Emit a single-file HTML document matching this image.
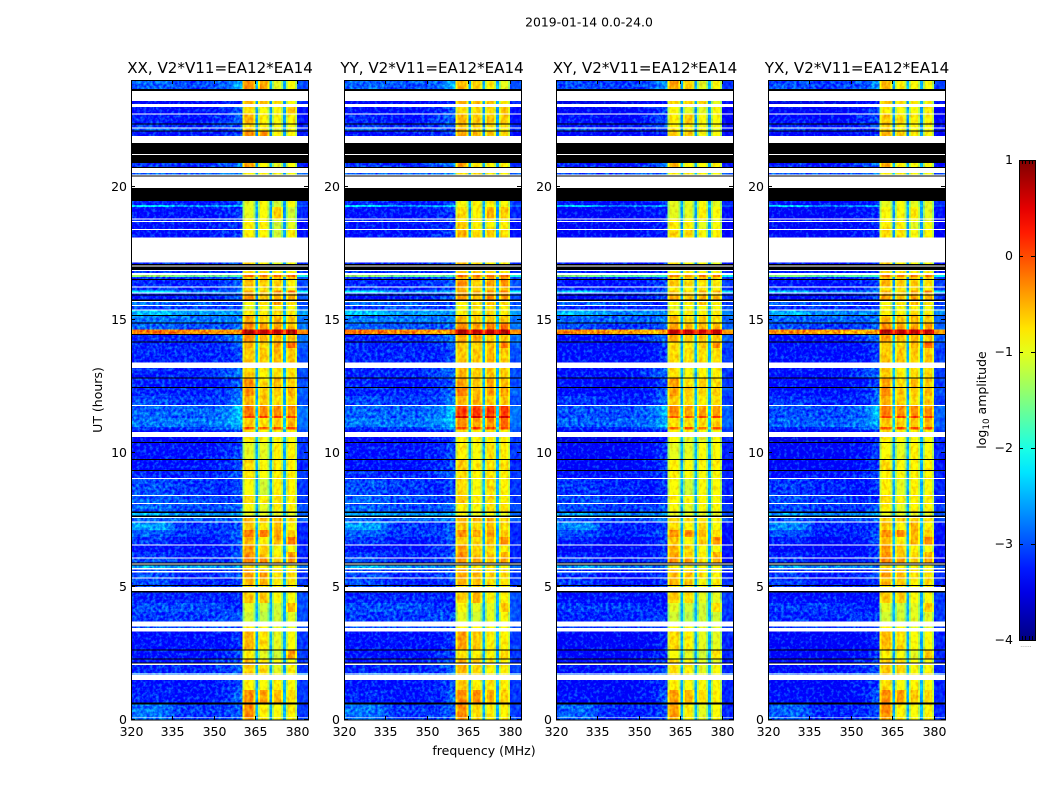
<!DOCTYPE html>
<html lang="en">
<head>
<meta charset="utf-8">
<title>2019-01-14 waterfall</title>
<style>
html,body{margin:0;padding:0;background:#fff;}
svg{display:block;}
text{font-family:"DejaVu Sans","Liberation Sans",sans-serif;fill:#000;}
</style>
</head>
<body>
<svg id="figure" xmlns="http://www.w3.org/2000/svg" width="1050" height="800" viewBox="0 0 1050 800">
  <defs>
    <filter id="bgGrain" x="-5%" y="0" width="110%" height="100%" color-interpolation-filters="sRGB">
      <feGaussianBlur in="SourceGraphic" stdDeviation="5 0" result="b"/>
      <feComponentTransfer in="b" result="o"><feFuncA type="linear" slope="30"/></feComponentTransfer>
      <feComposite in="o" in2="SourceAlpha" operator="in" result="c"/>
      <feTurbulence type="fractalNoise" baseFrequency="0.32" numOctaves="2" seed="4" result="n"/>
      <feColorMatrix in="n" type="matrix" values="0.4 0 0 0 0.28  2 0 0 0 -0.5  0 0 0 0 0.5  0 0 0 0 1" result="g"/>
      <feComposite in="c" in2="g" operator="arithmetic" k1="0" k2="1" k3="0.6" k4="-0.3" result="m"/>
      <feComposite in="m" in2="SourceAlpha" operator="in"/>
    </filter>
    <filter id="bandGrain" x="0" y="0" width="100%" height="100%" color-interpolation-filters="sRGB">
      <feTurbulence type="fractalNoise" baseFrequency="0.3 0.22" numOctaves="2" seed="9" result="n"/>
      <feColorMatrix in="n" type="matrix" values="0.4 0 0 0 0.3  1.6 0 0 0 -0.3  0 0 0 0 0.5  0 0 0 0 1" result="g"/>
      <feComposite in="SourceGraphic" in2="g" operator="arithmetic" k1="0" k2="1" k3="0.36" k4="-0.18" result="m"/>
      <feComposite in="m" in2="SourceAlpha" operator="in"/>
    </filter>
    <linearGradient id="jetGradient" x1="0" y1="1" x2="0" y2="0"></linearGradient>
  </defs>
  <rect x="0" y="0" width="1050" height="800" fill="#fff"/>
  <text x="589" y="26.5" text-anchor="middle" font-size="12.4">2019-01-14 0.0-24.0</text>
  <text x="220" y="73" text-anchor="middle" font-size="15.1">XX, V2*V11=EA12*EA14</text>
  <text x="432" y="73" text-anchor="middle" font-size="15.1">YY, V2*V11=EA12*EA14</text>
  <text x="645" y="73" text-anchor="middle" font-size="15.1">XY, V2*V11=EA12*EA14</text>
  <text x="857" y="73" text-anchor="middle" font-size="15.1">YX, V2*V11=EA12*EA14</text>
  <text transform="translate(102,400) rotate(-90)" text-anchor="middle" font-size="12.5">UT (hours)</text>
  <text x="484" y="755" text-anchor="middle" font-size="12.5">frequency (MHz)</text>
  <text transform="translate(986,400) rotate(-90)" text-anchor="middle" font-size="12.5">log<tspan dy="3" font-size="8.8">10</tspan><tspan dy="-3"> amplitude</tspan></text>
  <g id="panels"></g>
  <g id="colorbar"></g>
</svg>
<script>
// Frequency channel edges (MHz) for the out-of-band heatmap columns.
const lowFreqEdges = [320,335,350,357,361];
// Sub-band ranges (MHz): each has a flat centre and slightly dimmer shoulders.
const subBands = [[360.4,365],[366,370],[371,375],[376,380]];
// Notches between the sub-bands (MHz).
const notchRanges = [[365,366],[370,371],[375,376]];
const highFreqRange = [380,384];
const bandShoulderMHz = [0.7];
const bandShoulderDrop = [-4];
const notchOffset = [-4];

const xTickValues = [320,335,350,365,380];
const yTickValues = [0,5,10,15,20];
const colorbarTicks = [1,0,-1,-2,-3,-4];
const colorbarMinorFractions = [0.2,0.4,0.6,0.8];

// Time ranges (UT hours, top then bottom) holding valid data, one per matrix row.
const dataRows = [
[24,23.66],[23.21,23.10],[22.99,22.75],[22.71,22.37],[22.33,22.22],
[22.18,22.11],[22.08,21.90],[20.89,20.74],[20.51,20.46],[19.46,19.31],
[19.31,19.24],[19.24,18.81],[18.77,18.71],[18.68,18.41],[18.38,18.09],
[17.15,17.10],[16.84,16.76],[16.69,16.61],[16.61,16.54],[16.50,16.25],
[16.21,16.11],[16.11,16.03],[16.00,15.95],[15.92,15.76],[15.68,15.56],
[15.53,15.40],[15.35,15.19],[15.16,14.91],[14.89,14.65],[14.65,14.48],
[14.43,14.19],[14.15,13.95],[13.95,13.40],[13.20,12.85],[12.83,12.48],
[12.45,12.15],[12.15,11.81],[11.78,11.40],[11.40,11.33],[11.33,10.99],
[10.99,10.89],[10.89,10.80],[10.61,10.43],[10.40,9.78],[9.75,9.38],
[9.35,9.08],[9.04,8.44],[8.40,8.14],[8.10,7.81],[7.77,7.66],
[7.58,7.44],[7.40,7.13],[7.13,6.86],[6.86,6.59],[6.55,6.30],
[6.30,6.10],[6.06,5.90],[5.81,5.70],[5.65,5.59],[5.54,5.35],
[5.31,5.06],[5.03,4.98],[4.79,4.39],[4.39,4.05],[4.05,3.69],
[3.51,3.45],[3.31,2.65],[2.61,2.31],[2.28,2.16],[2.07,1.77],
[1.74,1.70],[1.50,1.13],[1.13,0.65],[0.59,0.12],[0.09,0]
];

// Time ranges (UT hours) where the amplitude is zero and drawn black.
const zeroRows = [
[23.66,23.59],[22.37,22.33],[22.11,22.08],[21.64,21.23],[21.19,20.89],[20.74,20.70],[20.42,20.38],[19.95,19.46],
[17.10,17.05],[17.00,16.88],[16.54,16.50],[15.95,15.92],[15.76,15.71],[15.19,15.16],[14.91,14.89],[14.48,14.43],
[14.19,14.15],[12.85,12.83],[12.48,12.45],[10.43,10.40],[9.78,9.75],[9.38,9.35],[7.81,7.77],[7.66,7.62],
[5.90,5.87],[5.84,5.81],[5.06,5.03],[4.83,4.79],[2.65,2.61],[2.31,2.28],[2.16,2.13],[0.65,0.59]
];

// Out-of-band levels, tenths of log10 amplitude: 320-335, 335-350, 350-357, 357-361, notches, 380-384.
const backgroundLevels = [
[-27,-28,-27,-23,-21,-28],[-32,-32,-31,-30,-22,-30],[-31,-31,-30,-27,-22,-31],[-30,-31,-29,-27,-22,-31],[-29,-30,-29,-27,-22,-30],
[-27,-29,-29,-28,-22,-30],[-31,-31,-30,-28,-22,-31],[-29,-30,-28,-25,-21,-30],[-27,-27,-26,-24,-21,-27],[-30,-31,-30,-28,-22,-29],
[-21,-25,-24,-22,-20,-27],[-31,-31,-30,-29,-22,-30],[-30,-30,-30,-29,-22,-30],[-31,-31,-30,-29,-22,-31],[-31,-31,-30,-29,-22,-31],
[-30,-30,-29,-27,-22,-30],[-29,-29,-29,-28,-22,-29],[-12,-14,-14,-16,-8,-18],[-29,-29,-28,-27,-22,-28],[-30,-30,-29,-27,-22,-28],
[-29,-30,-29,-27,-22,-28],[-20,-25,-25,-24,-16,-20],[-30,-30,-29,-28,-22,-28],[-31,-30,-29,-27,-22,-28],[-26,-27,-29,-28,-22,-28],
[-29,-28,-29,-28,-22,-27],[-22,-24,-24,-24,-20,-24],[-26,-26,-26,-25,-20,-26],[-27,-28,-28,-26,-20,-26],[0,-1,-2,-1,4,-1],
[-30,-30,-28,-25,-20,-26],[-30,-30,-30,-27,-21,-27],[-30,-30,-30,-28,-21,-28],[-30,-30,-28,-26,-21,-28],[-30,-31,-30,-27,-21,-28],
[-30,-30,-29,-26,-21,-27],[-28,-29,-29,-25,-21,-28],[-27,-27,-26,-21,-20,-26],[-27,-28,-26,-22,-14,-26],[-26,-26,-25,-22,-20,-26],
[-29,-29,-27,-24,-14,-27],[-31,-31,-30,-29,-21,-28],[-32,-32,-31,-29,-21,-29],[-31,-31,-30,-28,-21,-29],[-31,-31,-30,-28,-21,-30],
[-30,-30,-29,-27,-21,-29],[-28,-29,-30,-28,-21,-29],[-27,-28,-29,-28,-21,-29],[-27,-28,-28,-26,-21,-28],[-23,-24,-24,-23,-20,-27],
[-27,-27,-27,-25,-21,-27],[-24,-29,-29,-28,-21,-30],[-27,-29,-29,-26,-21,-30],[-29,-31,-30,-27,-21,-30],[-31,-31,-30,-28,-21,-30],
[-29,-30,-30,-27,-21,-30],[-28,-30,-29,-27,-21,-30],[-23,-24,-25,-24,-20,-26],[-28,-29,-29,-28,-21,-29],[-28,-30,-29,-27,-21,-29],
[-28,-30,-30,-28,-21,-29],[-28,-29,-29,-28,-21,-29],[-30,-30,-30,-30,-21,-28],[-28,-28,-29,-30,-21,-28],[-29,-29,-28,-28,-21,-28],
[-28,-28,-28,-28,-21,-28],[-31,-31,-31,-29,-21,-29],[-31,-31,-30,-28,-21,-29],[-31,-31,-29,-27,-21,-29],[-30,-30,-29,-27,-21,-29],
[-26,-26,-25,-25,-21,-25],[-31,-31,-30,-28,-21,-29],[-30,-31,-30,-26,-21,-29],[-26,-29,-29,-27,-21,-29],[-26,-29,-28,-27,-21,-28]
];

// Per-polarization shift of the out-of-band levels (tenths): XX, YY, XY, YX.
const backgroundOffsets = [-2,-2,-3,-3];

// In-band levels, tenths of log10 amplitude: 360-365, 366-370, 371-375, 376-380.
const xxBandLevels = [
[-3,-4,-10,-9],[-5,-5,-7,-9],[-7,-9,-9,-6],[-5,-8,-9,-8],[-7,-8,-9,-9],
[-5,-8,-10,-9],[-3,-3,-8,-8],[-4,-8,-10,-9],[-8,-8,-9,-9],[-10,-9,-11,-9],
[-10,-9,-11,-9],[-10,-9,-6,-11],[-9,-9,-10,-11],[-8,-8,-11,-10],[-8,-8,-11,-8],
[-6,-8,-10,-9],[-7,-7,-8,-8],[-1,-2,-1,-1],[-7,-5,-5,-6],[-5,-6,-6,-8],
[-7,-8,-8,-9],[-5,-6,-3,-2],[-5,-6,-5,-6],[-3,-6,-4,-5],[-9,-7,-4,-7],
[-10,-9,-8,-9],[-8,-8,-7,-8],[-4,-6,-5,-6],[-3,-4,-4,-5],[8,7,7,8],
[-3,-5,-5,-6],[-5,-7,-4,-1],[-6,-6,-5,-6],[-6,-8,-7,-7],[-3,-7,-5,-6],
[-3,-6,-6,-5],[-5,-6,-7,-6],[-2,-3,-3,-3],[1,1,1,1],[-6,-7,-6,-5],
[0,0,0,1],[-7,-8,-8,-8],[-8,-9,-9,-9],[-10,-10,-8,-8],[-7,-9,-8,-8],
[-7,-9,-8,-8],[-9,-11,-8,-8],[-7,-8,-7,-8],[-9,-10,-8,-8],[-10,-10,-10,-10],
[-5,-5,-5,-7],[-6,-8,-5,-8],[-2,-2,-4,-6],[-5,-8,-5,-2],[-4,-6,-9,-9],
[-3,-6,-8,-4],[-2,-3,-6,-3],[-7,-9,-9,-9],[-5,-6,-7,-8],[-4,-4,-7,-7],
[-5,-5,-8,-7],[-7,-7,-8,-8],[-6,-6,-9,-9],[-10,-11,-11,-5],[-11,-12,-11,-10],
[-8,-9,-10,-10],[-5,-7,-10,-9],[-8,-10,-11,-4],[-5,-7,-9,-9],[-6,-7,-10,-8],
[-6,-7,-8,-8],[-8,-9,-8,-9],[-3,-4,-5,-7],[-3,-8,-9,-8],[-4,-8,-9,-8]
];
const yyBandLevels = [
[-5,-6,-8,-10],[-5,-5,-6,-8],[-7,-7,-7,-6],[-5,-6,-6,-6],[-6,-6,-7,-7],
[-5,-7,-8,-8],[-4,-5,-6,-7],[-4,-7,-8,-8],[-7,-7,-8,-8],[-9,-8,-8,-9],
[-9,-8,-8,-9],[-7,-8,-5,-6],[-8,-8,-8,-8],[-6,-8,-8,-8],[-5,-7,-6,-7],
[-5,-7,-8,-8],[-6,-6,-7,-7],[-1,-2,-1,-1],[-5,-5,-4,-4],[-3,-6,-4,-3],
[-5,-7,-6,-6],[-4,-5,-3,-2],[-4,-6,-5,-4],[-3,-5,-3,-4],[-8,-7,-5,-7],
[-9,-8,-7,-8],[-8,-7,-7,-8],[-5,-6,-6,-6],[-3,-4,-2,-1],[8,7,7,8],
[-4,-4,-6,-6],[-6,-6,-5,-2],[-6,-6,-5,-6],[-5,-6,-6,-6],[-4,-6,-4,-5],
[-2,-5,-4,-4],[-5,-5,-6,-6],[1,1,1,1],[6,6,6,6],[-3,-4,-3,-1],
[1,1,1,1],[-7,-8,-7,-8],[-8,-8,-8,-8],[-8,-9,-7,-8],[-6,-8,-7,-7],
[-7,-8,-7,-8],[-7,-9,-7,-8],[-6,-8,-7,-8],[-8,-9,-7,-7],[-9,-10,-9,-10],
[-5,-5,-5,-6],[-6,-7,-5,-7],[-3,-4,-4,-6],[-6,-7,-5,-3],[-4,-6,-7,-8],
[-3,-6,-6,-5],[-3,-4,-5,-4],[-7,-8,-8,-9],[-5,-6,-7,-8],[-4,-5,-6,-7],
[-5,-5,-7,-7],[-7,-7,-8,-8],[-6,-5,-8,-8],[-9,-10,-10,-6],[-10,-11,-10,-9],
[-8,-8,-9,-9],[-4,-6,-8,-8],[-7,-8,-8,-6],[-5,-6,-8,-8],[-5,-7,-8,-8],
[-6,-7,-8,-8],[-6,-8,-7,-8],[-3,-3,-5,-6],[-3,-7,-8,-8],[-4,-7,-8,-8]
];
const xyBandLevels = [
[-4,-6,-10,-9],[-7,-6,-7,-10],[-9,-10,-10,-9],[-8,-6,-9,-9],[-8,-8,-9,-9],
[-7,-8,-9,-10],[-6,-6,-9,-9],[-5,-8,-8,-8],[-8,-8,-8,-9],[-10,-10,-9,-10],
[-10,-10,-9,-10],[-10,-10,-8,-9],[-8,-9,-9,-10],[-8,-8,-10,-9],[-7,-7,-9,-8],
[-7,-9,-9,-10],[-8,-8,-9,-9],[-2,-3,-2,-2],[-7,-6,-6,-7],[-6,-7,-7,-8],
[-8,-8,-8,-9],[-6,-7,-5,-4],[-6,-6,-6,-7],[-4,-6,-5,-6],[-9,-8,-6,-8],
[-10,-9,-9,-9],[-8,-8,-8,-8],[-5,-7,-6,-7],[-4,-5,-5,-5],[7,7,6,7],
[-4,-6,-6,-6],[-7,-8,-6,-3],[-7,-7,-7,-7],[-7,-9,-8,-8],[-4,-7,-6,-7],
[-4,-6,-7,-6],[-6,-7,-8,-7],[-3,-4,-4,-4],[0,0,0,1],[-7,-7,-7,-6],
[-1,0,-1,0],[-8,-8,-9,-9],[-9,-10,-10,-9],[-10,-10,-9,-9],[-8,-9,-9,-8],
[-8,-9,-9,-9],[-9,-11,-9,-9],[-8,-8,-8,-9],[-9,-10,-9,-9],[-10,-10,-10,-10],
[-7,-7,-7,-8],[-7,-8,-7,-9],[-3,-3,-5,-7],[-6,-8,-6,-3],[-5,-7,-9,-9],
[-4,-6,-8,-5],[-3,-4,-7,-4],[-8,-9,-9,-9],[-6,-7,-8,-8],[-5,-5,-7,-8],
[-5,-6,-9,-8],[-8,-8,-8,-9],[-6,-7,-10,-10],[-10,-11,-11,-7],[-11,-12,-11,-11],
[-9,-9,-10,-10],[-7,-8,-10,-10],[-9,-10,-11,-7],[-7,-8,-10,-10],[-7,-8,-10,-9],
[-7,-8,-9,-9],[-8,-9,-9,-9],[-4,-5,-7,-8],[-4,-8,-10,-9],[-5,-8,-10,-9]
];
const yxBandLevels = [
[-5,-8,-9,-9],[-6,-7,-8,-9],[-8,-9,-9,-8],[-6,-7,-8,-8],[-7,-8,-8,-9],
[-6,-8,-9,-9],[-5,-6,-8,-8],[-5,-8,-9,-9],[-8,-8,-9,-9],[-10,-9,-10,-10],
[-10,-9,-10,-10],[-9,-9,-8,-10],[-8,-9,-9,-10],[-8,-8,-10,-9],[-7,-7,-9,-8],
[-6,-8,-9,-9],[-7,-7,-8,-8],[-2,-2,-2,-2],[-6,-6,-6,-6],[-5,-6,-6,-7],
[-7,-8,-7,-8],[-5,-6,-4,-3],[-5,-6,-5,-6],[-4,-6,-4,-5],[-9,-7,-5,-7],
[-9,-9,-8,-9],[-8,-8,-7,-8],[-5,-6,-5,-6],[-3,-4,-4,-4],[8,7,7,7],
[-4,-5,-5,-6],[-6,-7,-5,-1],[-6,-6,-6,-6],[-6,-8,-7,-7],[-4,-7,-5,-6],
[-3,-6,-6,-5],[-5,-6,-7,-6],[-2,-3,-3,-3],[1,1,1,1],[-6,-6,-6,-5],
[0,0,0,0],[-7,-8,-8,-8],[-8,-9,-9,-9],[-9,-10,-8,-9],[-7,-9,-8,-8],
[-8,-9,-8,-8],[-8,-10,-8,-9],[-7,-8,-8,-8],[-8,-10,-8,-8],[-10,-10,-10,-10],
[-6,-6,-6,-7],[-6,-8,-5,-8],[-3,-3,-5,-6],[-5,-8,-5,-3],[-4,-6,-8,-9],
[-3,-6,-7,-5],[-3,-4,-6,-4],[-7,-9,-9,-9],[-5,-6,-7,-8],[-4,-5,-7,-7],
[-5,-6,-8,-7],[-7,-8,-8,-8],[-6,-6,-9,-9],[-10,-11,-10,-6],[-11,-11,-10,-10],
[-8,-9,-10,-10],[-5,-7,-9,-9],[-8,-9,-10,-6],[-6,-7,-9,-9],[-6,-7,-9,-8],
[-6,-7,-8,-8],[-7,-9,-8,-9],[-3,-4,-6,-7],[-3,-8,-9,-8],[-4,-8,-9,-8]
];

const panelLevels = [xxBandLevels, yyBandLevels, xyBandLevels, yxBandLevels];
const panelKeys = ['xx','yy','xy','yx'];

const SVGNS = 'http://www.w3.org/2000/svg';
const panelLefts = [131, 344, 556, 768];
const plotW = 177, plotTop = 80, plotH = 640;
const xScale = (f, left) => left + (f - 320) / 64 * plotW;
const yScale = h => plotTop + plotH - h / 24 * plotH;

function clamp01(v){ return Math.max(0, Math.min(1, v)); }
function jet(log10Amp){
  const n = clamp01((log10Amp + 4) / 5);
  const r = clamp01(Math.min(4*n - 1.5, 4.5 - 4*n));
  const g = clamp01(Math.min(4*n - 0.5, 3.5 - 4*n));
  const b = clamp01(Math.min(4*n + 0.5, 2.5 - 4*n));
  return 'rgb(' + Math.round(r*255) + ',' + Math.round(g*255) + ',' + Math.round(b*255) + ')';
}
function make(tag, attrs, parent){
  const el = document.createElementNS(SVGNS, tag);
  for (const k in attrs) el.setAttribute(k, attrs[k]);
  parent.appendChild(el);
  return el;
}
function drawCell(parent, left, f0, f1, y0, hgt, tenths){
  const x0 = xScale(f0, left);
  const cell = make('rect', {x:x0, y:y0, width:xScale(f1, left) - x0, height:hgt, fill:jet(tenths/10)}, parent);
  
  
}
function tickLine(parent, x1, y1, x2, y2, name){
  const el = make('line', {x1:x1, y1:y1, x2:x2, y2:y2, stroke:'#000', 'stroke-width':1}, parent);
  
  
}
function tickLabel(parent, x, y, anchor, str, name){
  const el = make('text', {x:x, y:y, 'text-anchor':anchor, 'font-size':12.5}, parent);
  el.textContent = str;
  
  
}

const panelsRoot = document.getElementById('panels');
panelLevels.forEach(function(bands, p){
  const left = panelLefts[p];
  const key = panelKeys[p];
  const g = make('g', {}, panelsRoot);
  
  

  const bg = make('rect', {x:left, y:plotTop, width:plotW, height:plotH, fill:'#fff'}, g);
  
  

  const lowCells = make('g', {filter:'url(#bgGrain)', 'shape-rendering':'crispEdges'}, g);
  
  
  const bandCells = make('g', {filter:'url(#bandGrain)', 'shape-rendering':'crispEdges'}, g);
  
  

  dataRows.forEach(function(row, r){
    const b = backgroundLevels[r];
    const o = backgroundOffsets[p];
    const s = bands[r];
    const y0 = yScale(row[0]);
    const hgt = Math.max(1, yScale(row[1]) - y0);
    for (let c = 0; c < 4; c++) {
      drawCell(lowCells, left, lowFreqEdges[c], lowFreqEdges[c+1], y0, hgt, b[c] + o);
    }
    subBands.forEach(function(range, i){
      const w = bandShoulderMHz[0];
      drawCell(bandCells, left, range[0], range[0] + w, y0, hgt, s[i] + bandShoulderDrop[0]);
      drawCell(bandCells, left, range[0] + w, range[1] - w, y0, hgt, s[i]);
      drawCell(bandCells, left, range[1] - w, range[1], y0, hgt, s[i] + bandShoulderDrop[0]);
    });
    notchRanges.forEach(function(range){
      drawCell(bandCells, left, range[0], range[1], y0, hgt, b[4] + notchOffset[0]);
    });
    drawCell(bandCells, left, highFreqRange[0], highFreqRange[1], y0, hgt, b[5] + o);
  });

  const zeros = make('g', {'shape-rendering':'crispEdges'}, g);
  
  
  zeroRows.forEach(function(row){
    const y0 = yScale(row[0]);
    const z = make('rect', {x:left, y:y0, width:plotW, height:Math.max(1, yScale(row[1]) - y0), fill:'#000'}, zeros);
    
    
  });

  const frame = make('rect', {x:left+0.5, y:plotTop+0.5, width:plotW, height:plotH-0.5, fill:'none', stroke:'#000', 'stroke-width':1}, g);
  
  

  xTickValues.forEach(function(f){
    const x = Math.round(xScale(f, left)) + 0.5;
    tickLine(g, x, plotTop+plotH, x, plotTop+plotH-4, 'x-tick');
    tickLine(g, x, plotTop, x, plotTop+4, 'x-tick-top');
    tickLabel(g, x, plotTop+plotH+16, 'middle', String(f), 'x-tick-label');
  });
  yTickValues.forEach(function(h){
    const y = Math.round(yScale(h)) - 0.5;
    tickLine(g, left, y, left+4, y, 'y-tick');
    tickLine(g, left+plotW, y, left+plotW-4, y, 'y-tick-right');
    tickLabel(g, left-4, y+4.5, 'end', String(h), 'y-tick-label');
  });
});

// Colorbar
const cbX = 1019, cbW = 16, cbTop = 160, cbH = 480;
const grad = document.getElementById('jetGradient');
const stopCount = [0,1,2,3,4,5,6,7,8,9,10,11,12,13,14,15,16,17,18,19,20];
stopCount.forEach(function(i){
  const s = document.createElementNS(SVGNS, 'stop');
  s.setAttribute('offset', (i/20));
  s.setAttribute('stop-color', jet(-4 + 5*i/20));
  grad.appendChild(s);
});
const cb = document.getElementById('colorbar');
const cbBar = make('rect', {x:cbX+0.5, y:cbTop+0.5, width:cbW, height:cbH, fill:'url(#jetGradient)', stroke:'#000', 'stroke-width':1}, cb);


colorbarTicks.forEach(function(t){
  const y = Math.round(cbTop + (1 - t) / 5 * cbH) + 0.5;
  tickLine(cb, cbX, y, cbX+4, y, 'colorbar-tick');
  tickLine(cb, cbX+cbW, y, cbX+cbW-4, y, 'colorbar-tick-right');
  tickLabel(cb, cbX-6, y+3.5, 'end', t < 0 ? '\u2212' + (-t) : String(t), 'colorbar-tick-label');
});
colorbarMinorFractions.forEach(function(fr){
  const x = Math.round(cbX + fr * cbW) + 0.5;
  tickLine(cb, x, cbTop, x, cbTop+4, 'colorbar-minor-tick-top');
  tickLine(cb, x, cbTop+cbH, x, cbTop+cbH-4, 'colorbar-minor-tick-bottom');
});
const dots = make('text', {x:1026, y:647, 'text-anchor':'middle', 'font-size':6, style:'fill:#777'}, cb);
dots.textContent = '......';


</script>
</body>
</html>
